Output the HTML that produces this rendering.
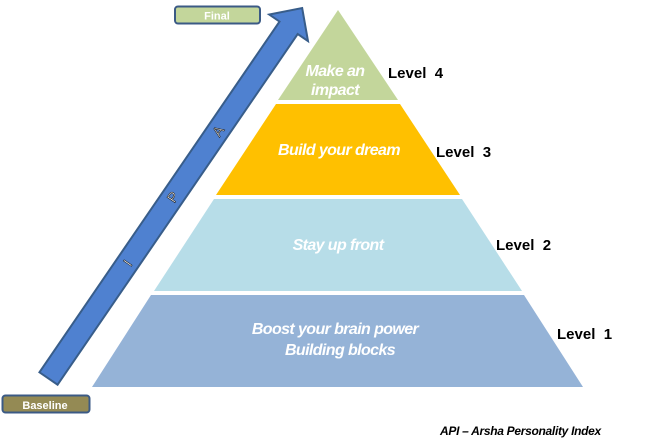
<!DOCTYPE html>
<html><head><meta charset="utf-8"><style>
html,body{margin:0;padding:0;background:#fff;}
svg{display:block;}
.t{font-family:"Liberation Sans",sans-serif;font-weight:bold;font-style:italic;fill:#fff;letter-spacing:-0.6px;}
.l{font-family:"Liberation Sans",sans-serif;font-weight:bold;fill:#000;font-size:15px;}
</style></head><body>
<svg width="665" height="446" viewBox="0 0 665 446" xmlns="http://www.w3.org/2000/svg">
<polygon points="338,10 398,100 278,100" fill="#c3d69b"/>
<polygon points="276,104 400,104 460,195 216,195" fill="#ffc000"/>
<polygon points="214,199 462,199 522,291 154,291" fill="#b7dde8"/>
<polygon points="151,295 524,295 583,387 92,387" fill="#95b3d7"/>
<text class="t" x="335" y="76" font-size="16" text-anchor="middle">Make an</text>
<text class="t" x="335" y="95" font-size="16" text-anchor="middle">impact</text>
<text class="t" x="339" y="155" font-size="16" text-anchor="middle">Build your dream</text>
<text class="t" x="338" y="250" font-size="16" text-anchor="middle">Stay up front</text>
<text class="t" x="335" y="334" font-size="16" text-anchor="middle">Boost your brain power</text>
<text class="t" x="340" y="355" font-size="16" text-anchor="middle">Building blocks</text>
<text class="l" x="388" y="78">Level&#160; 4</text>
<text class="l" x="436" y="157">Level&#160; 3</text>
<text class="l" x="496" y="250">Level&#160; 2</text>
<text class="l" x="557" y="339">Level&#160; 1</text>
<g transform="translate(48.5,378.5) rotate(-55.6)">
<polygon points="0,-11 425,-11 425,-23.5 449,0 425,23.5 425,11 0,11" fill="#4f81d0" stroke="#385d8a" stroke-width="2"/>
<text x="300" y="5" font-family="Liberation Sans,sans-serif" font-size="14" fill="#fff" stroke="#222" stroke-width="0.6" text-anchor="middle">A</text>
<text x="220" y="5" font-family="Liberation Sans,sans-serif" font-size="14" fill="#fff" stroke="#222" stroke-width="0.6" text-anchor="middle">P</text>
<text x="140" y="5" font-family="Liberation Sans,sans-serif" font-size="14" fill="#fff" stroke="#222" stroke-width="0.6" text-anchor="middle">I</text>
</g>
<rect x="175" y="6.5" width="85" height="17" rx="3" fill="#c3d69b" stroke="#3b5a85" stroke-width="2"/>
<text x="217" y="19.5" font-family="Liberation Sans,sans-serif" font-weight="bold" font-size="11" fill="#fff" text-anchor="middle">Final</text>
<rect x="2.5" y="395.5" width="87" height="17" rx="3" fill="#948a54" stroke="#3b5a85" stroke-width="2"/>
<text x="45" y="409" font-family="Liberation Sans,sans-serif" font-weight="bold" font-size="11" fill="#fff" text-anchor="middle">Baseline</text>
<text x="440" y="435" font-family="Liberation Sans,sans-serif" font-weight="bold" font-style="italic" font-size="12" fill="#000" letter-spacing="-0.3">API &#8211; Arsha Personality Index</text>
</svg>
</body></html>
